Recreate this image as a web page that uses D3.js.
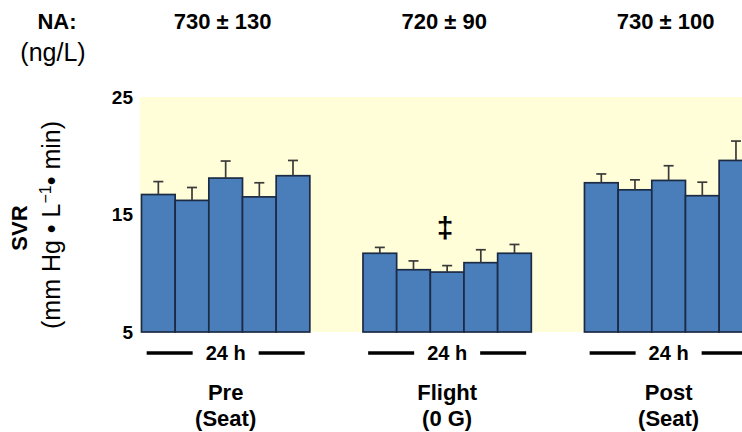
<!DOCTYPE html>
<html>
<head>
<meta charset="utf-8">
<script src="https://cdn.jsdelivr.net/npm/d3@7/dist/d3.min.js"></script>
<style>
  html, body { margin: 0; padding: 0; background: #fff; }
  svg { display: block; font-family: "Liberation Sans", Arial, sans-serif; }
</style>
</head>
<body>
<svg id="chart" width="742" height="432"></svg>
<script>
// Conditions and their sub-labels
const groups = ["Pre", "Flight", "Post"];
const groupSubLabels = ["(Seat)", "(0 G)", "(Seat)"];
// Noradrenaline (NA) per condition, ng/L
const naLabels = ["730 ± 130", "720 ± 90", "730 ± 100"];
// Five consecutive measurement periods across 24 h
const periods = ["1", "2", "3", "4", "5"];
// SVR means (mm Hg · L⁻¹ · min) and SE for each period
const svrPre = [16.7, 16.2, 18.1, 16.5, 18.3];
const svrFlight = [11.7, 10.3, 10.1, 10.9, 11.7];
const svrPost = [17.7, 17.1, 17.9, 16.6, 19.6];
const sePre = [1.1, 1.1, 1.45, 1.2, 1.3];
const seFlight = [0.5, 0.75, 0.55, 1.1, 0.75];
const sePost = [0.75, 0.85, 1.25, 1.15, 1.65];
const yTicks = [5, 15, 25];
const durationLabel = "24 h";
const significanceMark = "‡";

const svrByGroup = [svrPre, svrFlight, svrPost];
const seByGroup = [sePre, seFlight, sePost];
const rows = [];
groups.forEach((g, gi) => {
  periods.forEach((p, pi) => {
    rows.push({ group: g, period: p, value: svrByGroup[gi][pi], se: seByGroup[gi][pi] });
  });
});

const svg = d3.select("#chart");

const y = d3.scaleLinear().domain([5, 25]).range([332, 97]);
const x0 = d3.scaleBand().domain(groups).range([141.5, 752.8]).paddingInner(0.24).paddingOuter(0);
const x1 = d3.scaleBand().domain(periods).range([0, x0.bandwidth()]).padding(0);

// pale plotting area
svg.append("rect")
  .attr("x", 140).attr("y", y(25))
  .attr("width", 742 - 140).attr("height", y(5) - y(25))
  .attr("fill", "#FFFED9");

// bars
const bars = svg.append("g");
bars.selectAll("rect").data(rows).join("rect")
  .attr("x", d => x0(d.group) + x1(d.period))
  .attr("y", d => y(d.value))
  .attr("width", x1.bandwidth())
  .attr("height", d => y(5) - y(d.value))
  .attr("fill", "#4A7EBB")
  .attr("stroke", "#1C2B45")
  .attr("stroke-width", 1.7);

// error bars (upper only)
const err = svg.append("g").attr("stroke", "#3A3A3A").attr("stroke-width", 1.7);
err.selectAll("line.stem").data(rows).join("line")
  .attr("class", "stem")
  .attr("x1", d => x0(d.group) + x1(d.period) + x1.bandwidth() / 2)
  .attr("x2", d => x0(d.group) + x1(d.period) + x1.bandwidth() / 2)
  .attr("y1", d => y(d.value))
  .attr("y2", d => y(d.value + d.se));
err.selectAll("line.cap").data(rows).join("line")
  .attr("class", "cap")
  .attr("x1", d => x0(d.group) + x1(d.period) + x1.bandwidth() / 2 - 5)
  .attr("x2", d => x0(d.group) + x1(d.period) + x1.bandwidth() / 2 + 5)
  .attr("y1", d => y(d.value + d.se))
  .attr("y2", d => y(d.value + d.se));

// y axis: labels only
const yAxis = svg.append("g")
  .attr("transform", "translate(133,0)")
  .call(d3.axisLeft(y).tickValues(yTicks).tickSize(0).tickPadding(0));
yAxis.select(".domain").remove();
yAxis.selectAll("text")
  .attr("font-family", "Liberation Sans, Arial, sans-serif")
  .attr("font-size", 19)
  .attr("font-weight", "bold")
  .attr("fill", "#000");

// y axis title
svg.append("text")
  .attr("transform", `translate(27,${228}) rotate(-90)`)
  .attr("text-anchor", "middle")
  .attr("font-size", 22).attr("font-weight", "bold")
  .text("SVR");
const unit = svg.append("text")
  .attr("transform", `translate(60,${225}) rotate(-90)`)
  .attr("text-anchor", "middle")
  .attr("font-size", 25);
unit.append("tspan").text("(mm Hg • L");
unit.append("tspan").attr("dy", -9).attr("font-size", 16).text("−1");
unit.append("tspan").attr("dy", 9).text("• min)");

// header: NA values
svg.append("text").attr("x", 57).attr("y", 29)
  .attr("text-anchor", "middle").attr("font-size", 22).attr("font-weight", "bold")
  .text("NA:");
svg.append("text").attr("x", 53).attr("y", 61)
  .attr("text-anchor", "middle").attr("font-size", 25)
  .text("(ng/L)");
svg.append("g").selectAll("text").data(groups).join("text")
  .attr("x", g => x0(g) + x0.bandwidth() / 2 - 3)
  .attr("y", 29)
  .attr("text-anchor", "middle").attr("font-size", 22).attr("font-weight", "bold")
  .text((g, i) => naLabels[i]);

// significance mark over the flight bars
svg.append("text")
  .attr("x", x0("Flight") + x0.bandwidth() / 2 - 2)
  .attr("y", 238)
  .attr("text-anchor", "middle").attr("font-size", 30).attr("font-weight", "bold")
  .text(significanceMark);

// 24 h duration markers
const dur = svg.append("g").selectAll("g").data(groups).join("g")
  .attr("transform", g => `translate(${x0(g) + x0.bandwidth() / 2},353)`);
dur.append("line").attr("x1", -79).attr("x2", -33).attr("stroke", "#000").attr("stroke-width", 3.5);
dur.append("line").attr("x1", 33).attr("x2", 79).attr("stroke", "#000").attr("stroke-width", 3.5);
dur.append("text").attr("y", 7).attr("text-anchor", "middle")
  .attr("font-size", 20).attr("font-weight", "bold").text(durationLabel);

// condition labels
const cond = svg.append("g").selectAll("g").data(groups).join("g")
  .attr("transform", g => `translate(${x0(g) + x0.bandwidth() / 2},0)`);
cond.append("text").attr("y", 400).attr("text-anchor", "middle")
  .attr("font-size", 22).attr("font-weight", "bold").text(g => g);
cond.append("text").attr("y", 426).attr("text-anchor", "middle")
  .attr("font-size", 22).attr("font-weight", "bold").text((g, i) => groupSubLabels[i]);
</script>
</body>
</html>
